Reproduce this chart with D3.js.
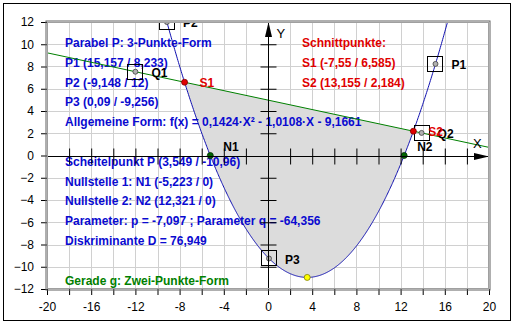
<!DOCTYPE html>
<html>
<head>
<meta charset="utf-8">
<script src="https://cdn.jsdelivr.net/npm/d3@7"></script>
<style>
  body { margin: 0; background: #fff; }
  text { font-family: "Liberation Sans", Arial, sans-serif; }
</style>
</head>
<body>
<div id="chart"></div>
<script>
// parabola f(x) = a*x^2 + b*x + c, coefficients as printed in the chart
var coef = [0.1424, -1.0108, -9.1661];

// intersection points of parabola and line g
var cutNames = ["S1", "S2"];
var cutX = [-7.55, 13.155];
var cutY = [6.585, 2.184];

// points drawn with a box marker
var boxNames = ["P1", "P2", "P3", "Q1", "Q2"];
var boxX = [15.157, -9.148, 0.09, -12.0, 13.9];
var boxY = [8.233, 12, -9.256, 7.53, 2.03];

// zeros and vertex
var zeroNames = ["N1", "N2"];
var zeroX = [-5.223, 12.321];
var vertex = [3.549, -10.96];

// tick labels
var xLabels = [-20, -16, -12, -8, -4, 0, 4, 8, 12, 16, 20];
var yLabels = [-12, -10, -8, -6, -4, -2, 0, 2, 4, 6, 8, 10, 12];

// info text rows ("" = empty row)
var blueRows = [
  "Parabel P: 3-Punkte-Form",
  "P1 (15,157 / 8,233)",
  "P2 (-9,148 / 12)",
  "P3 (0,09 / -9,256)",
  "Allgemeine Form: f(x) = 0,1424\u00b7X\u00b2 - 1,0108\u00b7X - 9,1661",
  "",
  "Scheitelpunkt P (3,549 / -10,96)",
  "Nullstelle 1: N1 (-5,223 / 0)",
  "Nullstelle 2: N2 (12,321 / 0)",
  "Parameter: p = -7,097 ; Parameter q = -64,356",
  "Diskriminante D = 76,949"
];
var redRows = ["Schnittpunkte:", "S1 (-7,55 / 6,585)", "S2 (13,155 / 2,184)"];
var greenRow = "Gerade g: Zwei-Punkte-Form";

// set the dimensions and margins of the graph
var W = 515, H = 324;
var margin = {top: 22, right: 26, bottom: 35, left: 47},
    width = W - margin.left - margin.right,
    height = H - margin.top - margin.bottom;

var svg = d3.select("#chart")
  .append("svg")
  .attr("width", W)
  .attr("height", H);

// outer border
svg.append("rect")
  .attr("x", 3.5).attr("y", 3.5)
  .attr("width", 507).attr("height", 317)
  .attr("fill", "none")
  .attr("stroke", "#000");

var g = svg.append("g")
  .attr("transform", "translate(" + margin.left + "," + margin.top + ")");

var x = d3.scaleLinear().domain([-20, 20]).range([0, width]);
var y = d3.scaleLinear().domain([-12, 12]).range([height, 0]);

function f(v) { return coef[0] * v * v + coef[1] * v + coef[2]; }
var slope = (cutY[1] - cutY[0]) / (cutX[1] - cutX[0]);
function line_g(v) { return cutY[0] + slope * (v - cutX[0]); }

// outer axes with tick labels
g.append("g")
  .attr("transform", "translate(0," + height + ")")
  .call(d3.axisBottom(x).tickValues(d3.range(-20, 21, 2)).tickSize(6)
    .tickFormat(function(d) { return xLabels.indexOf(d) >= 0 ? d : ""; }))
  .call(function(a) {
    a.select(".domain").remove();
    a.selectAll("text").attr("font-size", 12).attr("font-family", "Liberation Sans, Arial").attr("dy", "1.1em");
  });

g.append("g")
  .call(d3.axisLeft(y).tickValues(yLabels).tickSize(6))
  .call(function(a) {
    a.select(".domain").remove();
    a.selectAll("text").attr("font-size", 12).attr("font-family", "Liberation Sans, Arial").attr("x", -13);
  });

// clipping
g.append("clipPath").attr("id", "clip")
  .append("rect").attr("width", width).attr("height", height);

var plot = g.append("g").attr("clip-path", "url(#clip)");

plot.append("rect").attr("width", width).attr("height", height).attr("fill", "#fff");

// grid
plot.selectAll(".vgrid").data(d3.range(-18, 19, 2)).enter()
  .append("line")
  .attr("x1", function(d) { return Math.round(x(d)) + 0.5; })
  .attr("x2", function(d) { return Math.round(x(d)) + 0.5; })
  .attr("y1", 0).attr("y2", height)
  .attr("stroke", "#d0d0d0");
plot.selectAll(".hgrid").data(d3.range(-10, 11, 2)).enter()
  .append("line")
  .attr("y1", function(d) { return Math.round(y(d)) + 0.5; })
  .attr("y2", function(d) { return Math.round(y(d)) + 0.5; })
  .attr("x1", 0).attr("x2", width)
  .attr("stroke", "#d0d0d0");

// shaded area between line g and parabola
var xs = d3.range(cutX[0], cutX[1], 0.05).concat([cutX[1]]);
plot.append("path")
  .datum(xs)
  .attr("fill", "#dcdcdc")
  .attr("d", d3.area()
    .x(function(d) { return x(d); })
    .y0(function(d) { return y(f(d)); })
    .y1(function(d) { return y(line_g(d)); }));

// info texts
plot.selectAll(".blue").data(blueRows).enter()
  .append("text")
  .attr("x", 18)
  .attr("y", function(d, i) { return 20.7 + i * 19.8; })
  .attr("dy", "0.36em")
  .attr("font-size", 12).attr("font-weight", "bold")
  .attr("fill", "#0a0ad0")
  .text(function(d) { return d; });

plot.selectAll(".red").data(redRows).enter()
  .append("text")
  .attr("x", 255)
  .attr("y", function(d, i) { return 20.7 + i * 19.8; })
  .attr("dy", "0.36em")
  .attr("font-size", 12).attr("font-weight", "bold")
  .attr("fill", "#e00000")
  .text(function(d) { return d; });

plot.append("text")
  .attr("x", 18).attr("y", 20.7 + 12 * 19.8)
  .attr("dy", "0.36em")
  .attr("font-size", 12).attr("font-weight", "bold")
  .attr("fill", "#008000")
  .text(greenRow);

// coordinate axes through origin
var x0 = Math.round(x(0)) + 0.5, y0 = Math.round(y(0)) + 0.5;
g.append("g")
  .attr("transform", "translate(0," + (y0 - 8) + ")")
  .call(d3.axisBottom(x).tickValues(d3.range(-18, 19, 2).filter(function(d) { return d !== 0; }))
    .tickSize(16).tickFormat(""))
  .call(function(a) { a.select(".domain").remove(); });
g.append("g")
  .attr("transform", "translate(" + (x0 + 8) + ",0)")
  .call(d3.axisLeft(y).tickValues(d3.range(-10, 11, 2).filter(function(d) { return d !== 0; }))
    .tickSize(16).tickFormat(""))
  .call(function(a) { a.select(".domain").remove(); });

g.append("line").attr("x1", 0).attr("x2", width).attr("y1", y0).attr("y2", y0).attr("stroke", "#000");
g.append("line").attr("x1", x0).attr("x2", x0).attr("y1", 0).attr("y2", height).attr("stroke", "#000");
g.append("path")
  .attr("d", "M" + width + "," + y0 + "L" + (width - 15) + "," + (y0 - 3.5) + "L" + (width - 15) + "," + (y0 + 3.5) + "Z")
  .attr("fill", "#000");
g.append("path")
  .attr("d", "M" + x0 + ",0L" + (x0 - 3.5) + ",15L" + (x0 + 3.5) + ",15Z")
  .attr("fill", "#000");
g.append("text").attr("x", width - 16).attr("y", y0 - 13).attr("dy", "0.36em")
  .attr("font-size", 13).text("X");
g.append("text").attr("x", x0 + 8).attr("y", 11).attr("dy", "0.36em")
  .attr("font-size", 13).text("Y");

// line g
plot.append("path")
  .datum([-20, 20])
  .attr("fill", "none")
  .attr("stroke", "#008000")
  .attr("d", d3.line()
    .x(function(d) { return x(d); })
    .y(function(d) { return y(line_g(d)); }));

// parabola
plot.append("path")
  .datum(d3.range(-20, 20.01, 0.05))
  .attr("fill", "none")
  .attr("stroke", "#1010b0")
  .attr("d", d3.line()
    .x(function(d) { return x(d); })
    .y(function(d) { return y(f(d)); }));

// box markers
boxNames.forEach(function(name, i) {
  var px = x(boxX[i]), py = y(boxY[i]);
  plot.append("rect")
    .attr("x", Math.round(px) - 7.5).attr("y", Math.round(py) - 7.5)
    .attr("width", 15).attr("height", 15)
    .attr("fill", "none").attr("stroke", "#000");
  plot.append("circle")
    .attr("cx", px).attr("cy", py).attr("r", 2.5)
    .attr("fill", "#b0b0b0").attr("stroke", "#404040").attr("stroke-width", 0.8);
  plot.append("text")
    .attr("x", px + 16).attr("y", py + 1).attr("dy", "0.36em")
    .attr("font-size", 12).attr("font-weight", "bold")
    .text(name);
});

// zeros
zeroNames.forEach(function(name, i) {
  var px = x(zeroX[i]), py = y(0);
  plot.append("circle")
    .attr("cx", px).attr("cy", py).attr("r", 3)
    .attr("fill", "#006400").attr("stroke", "#003000").attr("stroke-width", 0.8);
  plot.append("text")
    .attr("x", px + 13).attr("y", py - 9).attr("dy", "0.36em")
    .attr("font-size", 12).attr("font-weight", "bold")
    .text(name);
});

// intersections
cutNames.forEach(function(name, i) {
  var px = x(cutX[i]), py = y(cutY[i]);
  plot.append("circle")
    .attr("cx", px).attr("cy", py).attr("r", 3)
    .attr("fill", "#e00000").attr("stroke", "#800000").attr("stroke-width", 0.8);
  plot.append("text")
    .attr("x", px + 15).attr("y", py).attr("dy", "0.36em")
    .attr("font-size", 12).attr("font-weight", "bold")
    .attr("fill", "#e00000")
    .text(name);
});

// vertex
plot.append("circle")
  .attr("cx", x(vertex[0])).attr("cy", y(vertex[1])).attr("r", 3)
  .attr("fill", "#ffff00").attr("stroke", "#808000").attr("stroke-width", 0.8);

// plot frame
g.append("rect")
  .attr("x", -1).attr("y", -1)
  .attr("width", width + 2).attr("height", height + 2)
  .attr("fill", "none").attr("stroke", "#606060").attr("stroke-width", 1);
g.append("rect")
  .attr("x", 0.5).attr("y", 0.5)
  .attr("width", width - 1).attr("height", height - 1)
  .attr("fill", "none").attr("stroke", "#a0a0a0").attr("stroke-width", 1);
</script>
</body>
</html>
